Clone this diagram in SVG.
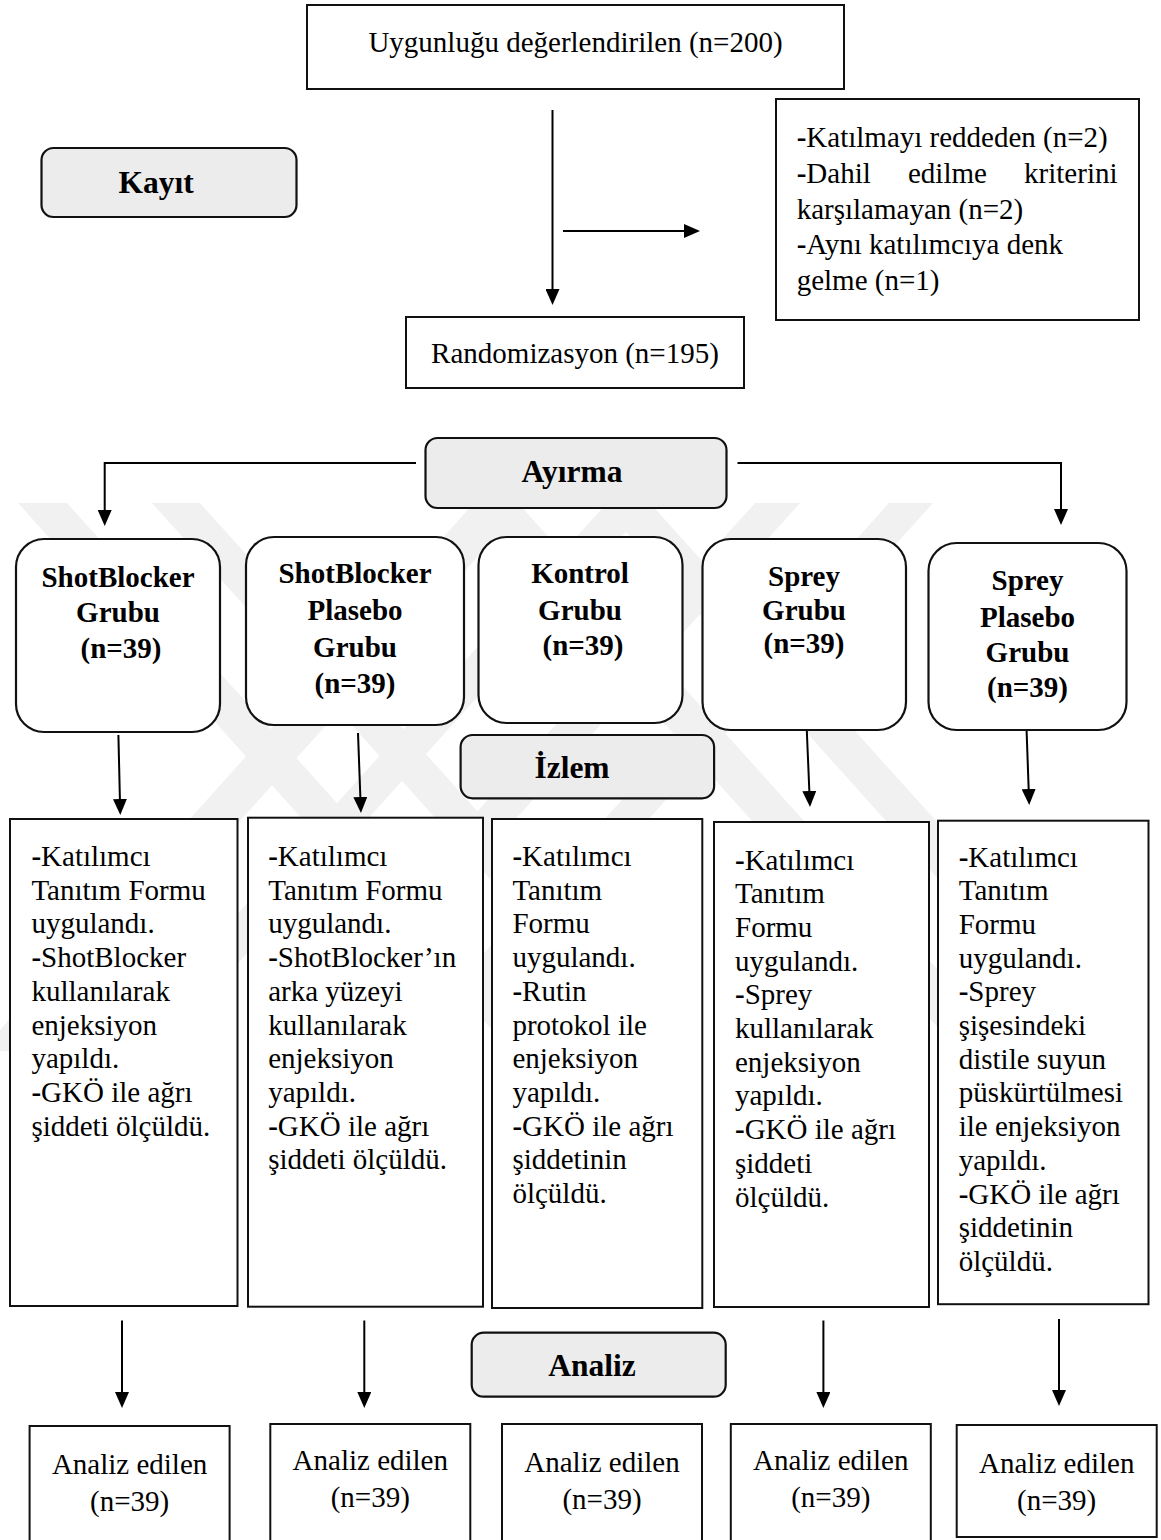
<svg xmlns="http://www.w3.org/2000/svg" width="1161" height="1540" viewBox="0 0 1161 1540">
<defs>
<style>
text{font-family:"Liberation Serif","Times New Roman",serif;fill:#000}
.t{font-size:29px}
.b{font-size:29px;font-weight:bold}
.h{font-size:31.5px;font-weight:bold}
.box{fill:#fff;stroke:#111;stroke-width:2}
.rbox{fill:#fff;stroke:#111;stroke-width:2.2}
.hbox{fill:#ececec;stroke:#111;stroke-width:2.2}
.c{text-anchor:middle}
.conn{fill:none;stroke:#000;stroke-width:2}
.wm{fill:#f1f1f1}
</style>
<marker id="ah" markerWidth="16" markerHeight="14" refX="4" refY="7" orient="auto" markerUnits="userSpaceOnUse">
<path d="M0,0 L16,7 L0,14 z" fill="#000"/>
</marker>
</defs>
<rect width="1161" height="1540" fill="#fff"/>
<g id="watermark">
<polygon class="wm" points="18,503 67,503 560,1051 511,1051"/>
<polygon class="wm" points="152,503 200,503 693,1051 645,1051"/>
<polygon class="wm" points="466,503 518,503 1011,1051 959,1051"/>
<polygon class="wm" points="600,503 650,503 1143,1051 1093,1051"/>
<polygon class="wm" points="474,503 526,503 33,1051 -19,1051"/>
<polygon class="wm" points="607,503 652,503 159,1051 114,1051"/>
<polygon class="wm" points="755,503 800,503 307,1051 262,1051"/>
<polygon class="wm" points="889,503 933,503 440,1051 396,1051"/>
</g>
<g id="connectors">
<line class="conn" x1="552.5" y1="110" x2="552.5" y2="293" marker-end="url(#ah)"/>
<line class="conn" x1="563" y1="231" x2="688" y2="231" marker-end="url(#ah)"/>
<path class="conn" d="M416,463 H104.7 V514" marker-end="url(#ah)"/>
<path class="conn" d="M737.5,463 H1061 V513" marker-end="url(#ah)"/>
<line class="conn" x1="118.4" y1="735" x2="120" y2="803" marker-end="url(#ah)"/>
<line class="conn" x1="358" y1="733" x2="360.5" y2="801" marker-end="url(#ah)"/>
<line class="conn" x1="806.7" y1="728" x2="809.5" y2="795" marker-end="url(#ah)"/>
<line class="conn" x1="1026.5" y1="728" x2="1028.8" y2="793" marker-end="url(#ah)"/>
<line class="conn" x1="122" y1="1320.5" x2="122" y2="1396" marker-end="url(#ah)"/>
<line class="conn" x1="364.3" y1="1320.5" x2="364.3" y2="1396" marker-end="url(#ah)"/>
<line class="conn" x1="823.4" y1="1320.5" x2="823.4" y2="1396" marker-end="url(#ah)"/>
<line class="conn" x1="1059" y1="1319" x2="1059" y2="1394" marker-end="url(#ah)"/>
</g>
<g id="n-uygun">
<rect class="box" x="307" y="5" width="537" height="84"/>
<text class="t c" x="575.5" y="52">Uygunluğu değerlendirilen (n=200)</text>
</g>
<g id="n-kayit">
<rect class="hbox" x="41.5" y="148" width="255" height="69" rx="12"/>
<text class="h c" x="156" y="193">Kayıt</text>
</g>
<g id="n-exclusion">
<rect class="box" x="776" y="99" width="363" height="221"/>
<text class="t" x="796.7" y="146.7"><tspan font-weight="bold">-</tspan>Katılmayı reddeden (n=2)</text>
<text class="t" x="796.7" y="182.6"><tspan font-weight="bold">-</tspan>Dahil</text>
<text class="t" x="908" y="182.6">edilme</text>
<text class="t" x="1117.5" y="182.6" text-anchor="end">kriterini</text>
<text class="t" x="796.7" y="218.5">karşılamayan (n=2)</text>
<text class="t" x="796.7" y="254.4"><tspan font-weight="bold">-</tspan>Aynı katılımcıya denk</text>
<text class="t" x="796.7" y="290.3">gelme (n=1)</text>
</g>
<g id="n-random">
<rect class="box" x="406" y="317" width="338" height="71"/>
<text class="t c" x="575" y="363">Randomizasyon (n=195)</text>
</g>
<g id="n-ayirma">
<rect class="hbox" x="425.5" y="438" width="301" height="70" rx="12"/>
<text class="h c" x="572" y="482">Ayırma</text>
</g>
<g id="n-g1">
<rect class="rbox" x="16" y="539" width="204" height="193" rx="28"/>
<text class="b c" x="118" y="586.5">ShotBlocker</text>
<text class="b c" x="118" y="622">Grubu</text>
<text class="b c" x="121" y="657.5">(n=39)</text>
</g>
<g id="n-g2">
<rect class="rbox" x="246" y="537" width="218" height="188" rx="28"/>
<text class="b c" x="355" y="583.3">ShotBlocker</text>
<text class="b c" x="355" y="620">Plasebo</text>
<text class="b c" x="355" y="656.5">Grubu</text>
<text class="b c" x="355" y="692.8">(n=39)</text>
</g>
<g id="n-g3">
<rect class="rbox" x="478.5" y="537" width="204" height="186" rx="28"/>
<text class="b c" x="580" y="583.3">Kontrol</text>
<text class="b c" x="580" y="620">Grubu</text>
<text class="b c" x="583" y="655">(n=39)</text>
</g>
<g id="n-g4">
<rect class="rbox" x="702.5" y="539" width="203.5" height="191" rx="28"/>
<text class="b c" x="804" y="586">Sprey</text>
<text class="b c" x="804" y="620">Grubu</text>
<text class="b c" x="804" y="653">(n=39)</text>
</g>
<g id="n-g5">
<rect class="rbox" x="928.5" y="543" width="198" height="187" rx="28"/>
<text class="b c" x="1027.5" y="590">Sprey</text>
<text class="b c" x="1027.5" y="626.5">Plasebo</text>
<text class="b c" x="1027.5" y="661.5">Grubu</text>
<text class="b c" x="1027.5" y="697">(n=39)</text>
</g>
<g id="n-izlem">
<rect class="hbox" x="460.6" y="735" width="253.5" height="63.3" rx="12"/>
<text class="h c" x="572" y="778">İzlem</text>
</g>
<g id="n-d1">
<rect class="box" x="10" y="819" width="227.5" height="487"/>
<text class="t" x="31.4" y="866"><tspan font-weight="bold">-</tspan>Katılımcı</text>
<text class="t" x="31.4" y="899.7">Tanıtım Formu</text>
<text class="t" x="31.4" y="933.4">uygulandı.</text>
<text class="t" x="31.4" y="967.1"><tspan font-weight="bold">-</tspan>ShotBlocker</text>
<text class="t" x="31.4" y="1000.8">kullanılarak</text>
<text class="t" x="31.4" y="1034.5">enjeksiyon</text>
<text class="t" x="31.4" y="1068.2">yapıldı.</text>
<text class="t" x="31.4" y="1101.9"><tspan font-weight="bold">-</tspan>GKÖ ile ağrı</text>
<text class="t" x="31.4" y="1135.6">şiddeti ölçüldü.</text>
</g>
<g id="n-d2">
<rect class="box" x="248" y="817.7" width="235" height="489"/>
<text class="t" x="268.2" y="866"><tspan font-weight="bold">-</tspan>Katılımcı</text>
<text class="t" x="268.2" y="899.7">Tanıtım Formu</text>
<text class="t" x="268.2" y="933.4">uygulandı.</text>
<text class="t" x="268.2" y="967.1"><tspan font-weight="bold">-</tspan>ShotBlocker’ın</text>
<text class="t" x="268.2" y="1000.8">arka yüzeyi</text>
<text class="t" x="268.2" y="1034.5">kullanılarak</text>
<text class="t" x="268.2" y="1068.2">enjeksiyon</text>
<text class="t" x="268.2" y="1101.9">yapıldı.</text>
<text class="t" x="268.2" y="1135.6"><tspan font-weight="bold">-</tspan>GKÖ ile ağrı</text>
<text class="t" x="268.2" y="1169.3">şiddeti ölçüldü.</text>
</g>
<g id="n-d3">
<rect class="box" x="492" y="819" width="210.3" height="489"/>
<text class="t" x="512.4" y="866"><tspan font-weight="bold">-</tspan>Katılımcı</text>
<text class="t" x="512.4" y="899.7">Tanıtım</text>
<text class="t" x="512.4" y="933.4">Formu</text>
<text class="t" x="512.4" y="967.1">uygulandı.</text>
<text class="t" x="512.4" y="1000.8"><tspan font-weight="bold">-</tspan>Rutin</text>
<text class="t" x="512.4" y="1034.5">protokol ile</text>
<text class="t" x="512.4" y="1068.2">enjeksiyon</text>
<text class="t" x="512.4" y="1101.9">yapıldı.</text>
<text class="t" x="512.4" y="1135.6"><tspan font-weight="bold">-</tspan>GKÖ ile ağrı</text>
<text class="t" x="512.4" y="1169.3">şiddetinin</text>
<text class="t" x="512.4" y="1203">ölçüldü.</text>
</g>
<g id="n-d4">
<rect class="box" x="714" y="822" width="215" height="485"/>
<text class="t" x="735" y="869.5"><tspan font-weight="bold">-</tspan>Katılımcı</text>
<text class="t" x="735" y="903.2">Tanıtım</text>
<text class="t" x="735" y="936.9">Formu</text>
<text class="t" x="735" y="970.6">uygulandı.</text>
<text class="t" x="735" y="1004.3"><tspan font-weight="bold">-</tspan>Sprey</text>
<text class="t" x="735" y="1038">kullanılarak</text>
<text class="t" x="735" y="1071.7">enjeksiyon</text>
<text class="t" x="735" y="1105.4">yapıldı.</text>
<text class="t" x="735" y="1139.1"><tspan font-weight="bold">-</tspan>GKÖ ile ağrı</text>
<text class="t" x="735" y="1172.8">şiddeti</text>
<text class="t" x="735" y="1206.5">ölçüldü.</text>
</g>
<g id="n-d5">
<rect class="box" x="938" y="820.7" width="210.5" height="483.5"/>
<text class="t" x="958.7" y="866.5"><tspan font-weight="bold">-</tspan>Katılımcı</text>
<text class="t" x="958.7" y="900.2">Tanıtım</text>
<text class="t" x="958.7" y="933.9">Formu</text>
<text class="t" x="958.7" y="967.6">uygulandı.</text>
<text class="t" x="958.7" y="1001.3"><tspan font-weight="bold">-</tspan>Sprey</text>
<text class="t" x="958.7" y="1035">şişesindeki</text>
<text class="t" x="958.7" y="1068.7">distile suyun</text>
<text class="t" x="958.7" y="1102.4">püskürtülmesi</text>
<text class="t" x="958.7" y="1136.1">ile enjeksiyon</text>
<text class="t" x="958.7" y="1169.8">yapıldı.</text>
<text class="t" x="958.7" y="1203.5"><tspan font-weight="bold">-</tspan>GKÖ ile ağrı</text>
<text class="t" x="958.7" y="1237.2">şiddetinin</text>
<text class="t" x="958.7" y="1270.9">ölçüldü.</text>
</g>
<g id="n-analiz">
<rect class="hbox" x="471.7" y="1332.7" width="254" height="64" rx="12"/>
<text class="h c" x="592" y="1376">Analiz</text>
</g>
<g id="n-a1">
<rect class="box" x="29.6" y="1426" width="200" height="140"/>
<text class="t c" x="129.6" y="1474">Analiz edilen</text>
<text class="t c" x="129.6" y="1511">(n=39)</text>
</g>
<g id="n-a2">
<rect class="box" x="270.3" y="1424" width="200" height="140"/>
<text class="t c" x="370.3" y="1470">Analiz edilen</text>
<text class="t c" x="370.3" y="1507">(n=39)</text>
</g>
<g id="n-a3">
<rect class="box" x="502" y="1424" width="200" height="140"/>
<text class="t c" x="602" y="1472">Analiz edilen</text>
<text class="t c" x="602" y="1509">(n=39)</text>
</g>
<g id="n-a4">
<rect class="box" x="730.8" y="1424" width="200" height="140"/>
<text class="t c" x="830.8" y="1470">Analiz edilen</text>
<text class="t c" x="830.8" y="1507">(n=39)</text>
</g>
<g id="n-a5">
<rect class="box" x="956.7" y="1425" width="200" height="112"/>
<text class="t c" x="1056.7" y="1473">Analiz edilen</text>
<text class="t c" x="1056.7" y="1510">(n=39)</text>
</g>
</svg>
